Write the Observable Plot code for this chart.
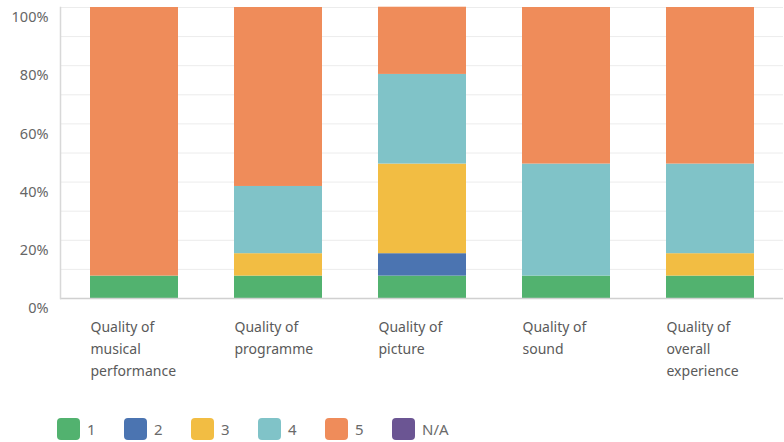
<!DOCTYPE html>
<html>
<head>
<meta charset="utf-8">
<script src="https://cdn.jsdelivr.net/npm/d3@7"></script>
<script src="https://cdn.jsdelivr.net/npm/@observablehq/plot@0.6"></script>
<style>
  html, body { margin: 0; padding: 0; background: #fff; }
  body { width: 784px; height: 442px; overflow: hidden; font-family: "Noto Sans", "Open Sans", sans-serif; }
  #legend { display: flex; padding-left: 57px; margin-top: 18px; }
  .item { display: flex; align-items: center; width: 67px; color: #6a6a6a; font-size: 15px; }
  .sw { width: 23px; height: 22px; border-radius: 4px; margin-right: 7px; }
</style>
</head>
<body>
<div id="chart"></div>
<div id="legend"></div>
<script>
const categories = ["Quality of musical performance", "Quality of programme", "Quality of picture", "Quality of sound", "Quality of overall experience"];
const categoryLabels = ["Quality of\nmusical\nperformance", "Quality of\nprogramme", "Quality of\npicture", "Quality of\nsound", "Quality of\noverall\nexperience"];
const ratings = ["1", "2", "3", "4", "5", "N/A"];
const colors = ["#52b26f", "#4b74b1", "#f2bd43", "#80c3c8", "#ef8c5a", "#6b5593"];
// percent share of each rating per category
const r1 = [7.7, 7.7, 7.7, 7.7, 7.7];
const r2 = [0, 0, 7.7, 0, 0];
const r3 = [0, 7.7, 30.8, 0, 7.7];
const r4 = [0, 23.1, 30.8, 38.5, 30.8];
const r5 = [92.3, 61.5, 23.1, 53.8, 53.8];
const rNA = [0, 0, 0, 0, 0];
const yTicks = [0, 20, 40, 60, 80, 100];
const yGrid = [10, 20, 30, 40, 50, 60, 70, 80, 90, 100];

const series = [r1, r2, r3, r4, r5, rNA];
const data = [];
categories.forEach((c, i) => {
  ratings.forEach((r, j) => data.push({category: c, rating: r, value: series[j][i]}));
});
const labelOf = new Map(categories.map((c, i) => [c, categoryLabels[i]]));

const chart = Plot.plot({
  width: 784,
  height: 400,
  marginTop: 7,
  marginBottom: 102,
  marginLeft: 60,
  marginRight: 1,
  style: {fontFamily: "'Noto Sans', 'Open Sans', sans-serif", fontSize: "14px", color: "#666"},
  x: {domain: categories, paddingInner: 0.39, paddingOuter: 0.195, label: null},
  y: {domain: [0, 100], label: null},
  color: {domain: ratings, range: colors},
  marks: [
    Plot.ruleY(yGrid, {stroke: "#ececec", strokeWidth: 1}),
    Plot.barY(data, Plot.stackY({x: "category", y: "value", fill: "rating", order: ratings})),
    Plot.ruleY([0], {stroke: "#d0d0d0", strokeWidth: 1.5}),
    Plot.frame({anchor: "left", stroke: "#d8d8d8", strokeWidth: 1.5}),
    Plot.axisY({ticks: yTicks, tickFormat: d => d + "%", tickSize: 0, tickPadding: 12, dy: 10, fontSize: 14.5, fill: "#666"}),
    Plot.axisX({tickSize: 0, tickPadding: 18, tickFormat: d => labelOf.get(d), textAnchor: "start", dx: -44, lineHeight: 1.57, fontSize: 14, fill: "#5a5a5a"})
  ]
});
document.getElementById("chart").append(chart);

const legend = document.getElementById("legend");
ratings.forEach((r, i) => {
  const item = document.createElement("div");
  item.className = "item";
  const sw = document.createElement("div");
  sw.className = "sw";
  sw.style.background = colors[i];
  const t = document.createElement("span");
  t.textContent = r;
  item.append(sw, t);
  legend.append(item);
});
</script>
</body>
</html>
